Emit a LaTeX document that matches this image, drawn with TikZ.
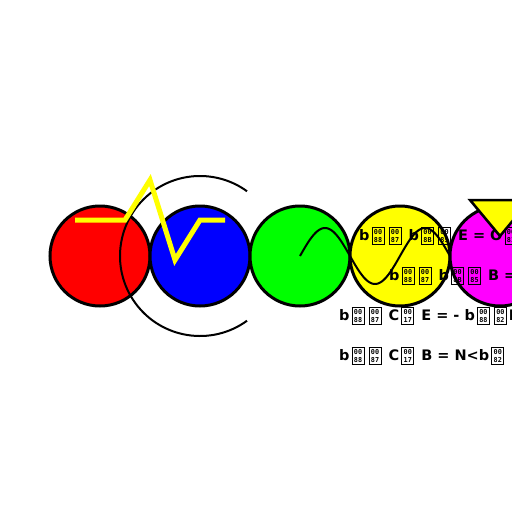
\documentclass[tikz,border=0pt]{standalone}
\usepackage{fontspec}
\setmainfont{DejaVu Sans}
\newfontfamily\hexfont{DejaVu Sans Mono}
\definecolor{ballred}{HTML}{FF0000}
\definecolor{ballblue}{HTML}{0000FF}
\definecolor{ballgreen}{HTML}{00FF00}
\definecolor{ballyellow}{HTML}{FFFF00}
\definecolor{ballmagenta}{HTML}{FF00FF}
\newcommand{\hexbox}[1]{\hspace{2pt}\raisebox{-4pt}{\fboxsep=0pt\fboxrule=1pt\fbox{\vbox to 16pt{\hsize=11pt\parindent=0pt\vss\centering\hexfont\fontsize{6.8}{7.2}\selectfont 00\par #1\par\vss}}}\hspace{2pt}}

\begin{document}
\begin{tikzpicture}[x=1pt, y=-1pt,
    ball/.style={circle, draw=black, line width=3pt, minimum size=100pt, inner sep=0pt},
    ring/.style={draw=black, line width=2pt},
    zig/.style={draw=ballyellow, line width=5pt},
    wave/.style={draw=black, line width=2pt},
    flag/.style={fill=ballyellow, draw=black, line width=2.5pt, line join=miter},
    eqn/.style={anchor=base west, inner sep=0pt, font=\fontsize{14.5}{17}\selectfont\bfseries}
]
\useasboundingbox (0,0) rectangle (512,512);
\clip (0,0) rectangle (512,512);

%% row of balls
\node[ball, fill=ballred]     (red)     at (100,256) {};
\node[ball, fill=ballblue]    (blue)    at (200,256) {};
\node[ball, fill=ballgreen]   (green)   at (300,256) {};
\node[ball, fill=ballyellow]  (yellow)  at (400,256) {};
\node[ball, fill=ballmagenta] (magenta) at (500,256) {};

%% open ring round the blue ball
\draw[ring] (blue) ++(54:80) arc[start angle=54, end angle=306, radius=80];

%% zigzag
\draw[zig] (75,220) -- (125,220) -- (150,180) -- (175,260) -- (200,220) -- (225,220);

%% wave from the green ball
\draw[wave] plot[domain=300:450, samples=90, smooth] (\x, {256-28*sin(3.6*(\x-300))});

%% equations
\node[eqn] (divE)  at (359,240) {b\hexbox{88}\hexbox{87} b\hexbox{8B}\hexbox{85} E = O\hexbox{81}};
\node[eqn] (divB)  at (389,280) {b\hexbox{88}\hexbox{87} b\hexbox{8B}\hexbox{85} B =};
\node[eqn] (curlE) at (339,320) {b\hexbox{88}\hexbox{87} C\hexbox{17} E = - b\hexbox{88}\hexbox{82}B};
\node[eqn] (curlB) at (339,360) {b\hexbox{88}\hexbox{87} C\hexbox{17} B = N<b\hexbox{82}};

%% marker
\draw[flag] (470,200) -- (530,200) -- (500,236) -- cycle;
\end{tikzpicture}
\end{document}
